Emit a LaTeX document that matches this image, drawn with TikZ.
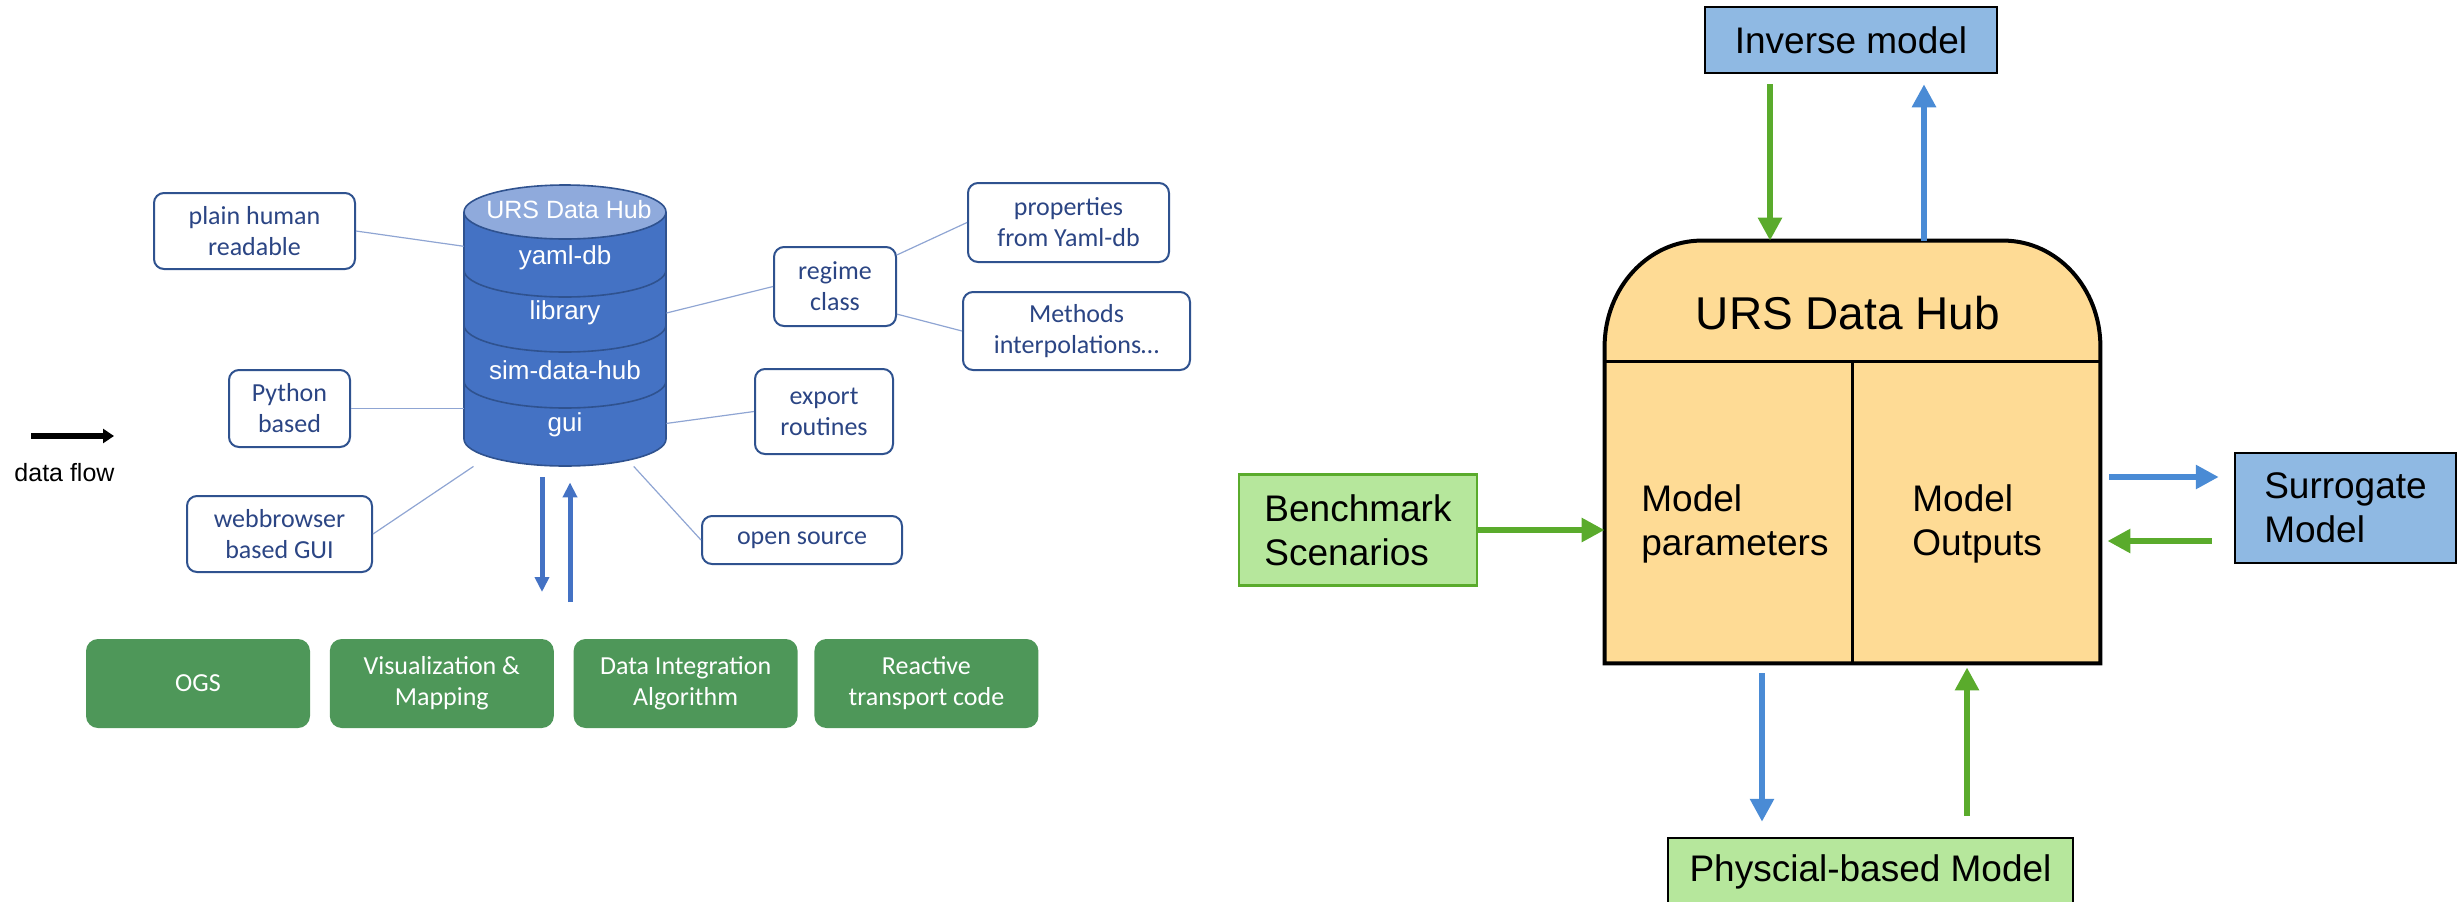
\documentclass[tikz,border=0pt]{standalone}
\usepackage{fontspec}
\setmainfont{Liberation Sans}
\newfontfamily\calibrifont{Carlito}
\usetikzlibrary{positioning,arrows.meta}

\definecolor{dbblue}{HTML}{4472C4}
\definecolor{dbtop}{HTML}{8FAADC}
\definecolor{dbedge}{HTML}{2F528F}
\definecolor{notetext}{HTML}{2B4584}
\definecolor{noteline}{HTML}{8FA5D3}
\definecolor{toolgreen}{HTML}{4E9759}
\definecolor{hubfill}{HTML}{FEDB95}
\definecolor{modelblue}{HTML}{8FB9E3}
\definecolor{modelgreen}{HTML}{B6E79C}
\definecolor{flowgreen}{HTML}{5AAB2C}
\definecolor{flowblue}{HTML}{4A8BD5}

\pgfmathsetmacro{\dbrx}{50.5}
\pgfmathsetmacro{\dbry}{13.5}

\begin{document}
\begin{tikzpicture}[
    x=0.5pt, y=-0.5pt,
    note/.style={draw=dbedge, line width=1pt, rounded corners=5pt, fill=white, text=notetext,
      font=\calibrifont\fontsize{13}{15.5}\selectfont, align=center, inner sep=0pt},
    tool/.style={fill=toolgreen, rounded corners=6pt, text=white, align=center,
      font=\calibrifont\fontsize{13}{15.5}\selectfont, minimum width=112pt, minimum height=44.5pt, inner sep=0pt},
    dblabel/.style={text=white, font=\fontsize{13}{15}\selectfont, inner sep=0pt},
    link/.style={noteline, line width=0.6pt},
    dbflow/.style={dbblue, line width=2.5pt, -{Triangle[length=7.5pt, width=7pt]}},
    legend/.style={black, line width=3pt, -{Triangle[length=5.5pt, width=7pt]}},
    model/.style={draw=black, line width=1.25pt, font=\fontsize{18.5}{22}\selectfont, inner sep=0pt},
    flow/.style={line width=3.25pt, -{Triangle[length=11.5pt, width=11.5pt]}},
    greenflow/.style={flow, flowgreen},
    blueflow/.style={flow, flowblue},
  ]
  \useasboundingbox (0,0) rectangle (2458,901);

  % legend
  \coordinate (legend tail) at (31,436);
  \coordinate (legend head) at (114,436);
  \draw[legend] (legend tail) -- (legend head);
  \node[font=\fontsize{12.5}{15}\selectfont] (legend) at (64.5,473) {data flow};

  % data hub cylinder
  \filldraw[fill=dbblue, draw=dbedge, line width=0.8pt] (464,212) -- (464,439)
    arc[start angle=180, end angle=360, x radius=\dbrx pt, y radius=\dbry pt] -- (666,212);
  \foreach \y in {270,325,381}
    \draw[dbedge, line width=0.8pt] (464,\y) arc[start angle=180, end angle=360, x radius=\dbrx pt, y radius=\dbry pt];
  \filldraw[fill=dbtop, draw=dbedge, line width=0.8pt] (565,212) ellipse[x radius=\dbrx pt, y radius=\dbry pt];
  \node[minimum width=101pt, minimum height=140.5pt, inner sep=0pt] (db) at (565,325.5) {};
  \node[dblabel, font=\fontsize{12.5}{15}\selectfont] (db title) at (569,210) {URS Data Hub};
  \node[dblabel] (yaml) at (565,258) {yaml-db};
  \node[dblabel] (library) at (565,313) {library};
  \node[dblabel] (simhub) at (565,370) {sim-data-hub};
  \node[dblabel] (gui) at (565,425) {gui};

  % notes around the cylinder
  \node[note, minimum width=100.5pt, minimum height=38pt] (plain) at (254.5,231) {plain human\\readable};
  \node[note, minimum width=60.5pt, minimum height=38.5pt] (python) at (289.5,408.5) {Python\\based};
  \node[note, minimum width=92.5pt, minimum height=38pt] (webgui) at (279.5,534) {webbrowser\\based GUI};
  \node[note, minimum width=61pt, minimum height=39.5pt] (regime) at (835,286.5) {regime\\class};
  \node[note, minimum width=100.5pt, minimum height=39.5pt] (props) at (1068.5,222.5) {properties\\from Yaml-db};
  \node[note, minimum width=113.5pt, minimum height=39pt] (methods) at (1076.5,331) {Methods\\interpolations…};
  \node[note, minimum width=69pt, minimum height=42.5pt] (export) at (824,411.5) {export\\routines};
  \node[note, minimum width=100pt, minimum height=24pt] (opensrc) at (802,540) {open source};

  % thin links
  \draw[link] (plain.east) -- (db.142);
  \draw[link] (python.east) -- (python.east -| db.west);
  \draw[link] (webgui.east) -- (db.237);
  \draw[link] (regime.west) -- (db.7);
  \draw[link] (export.west) -- (db.316);
  \draw[link] (opensrc.west) -- (db.296);
  \draw[link] (regime.27) -- (props.west);
  \draw[link] (regime.336) -- (methods.west);

  % tools row
  \node[tool] (ogs) at (198,683.5) {OGS};
  \node[tool, right=9.5pt of ogs] (vis) {Visualization \&\\Mapping};
  \node[tool, right=9.5pt of vis] (integration) {Data Integration\\Algorithm};
  \node[tool, right=8pt of integration] (reactive) {Reactive\\transport code};

  \coordinate (to tools) at (542,592);
  \coordinate (from tools) at (570,602);
  \draw[dbflow] ([yshift=-5.5pt]db.south -| to tools) -- (to tools);
  \draw[dbflow] (from tools) -- ([yshift=-8pt]db.south -| from tools);

  % hub with its models
  \node[model, fill=modelblue, minimum width=146pt, minimum height=33pt] (inverse) at (1851,40) {Inverse model};
  \node[minimum width=247.5pt, minimum height=211pt, inner sep=0pt] (hub) at (1852.5,452) {};
  \filldraw[fill=hubfill, draw=black, line width=2pt] (hub.south west)
    -- ([yshift=-53pt]hub.north west) arc[start angle=180, end angle=90, x radius=48.5pt, y radius=53pt]
    -- ([xshift=-48.5pt]hub.north east) arc[start angle=90, end angle=0, x radius=48.5pt, y radius=53pt]
    -- (hub.south east) -- cycle;
  \draw[black, line width=1.5pt] ([yshift=-60.5pt]hub.north west) -- ([yshift=-60.5pt]hub.north east);
  \draw[black, line width=1.5pt] ([yshift=-60.5pt]hub.north) -- (hub.south);
  \node[font=\fontsize{23}{27}\selectfont] (hub title) at (1848,313) {URS Data Hub};
  \node[anchor=west, align=left, font=\fontsize{18.5}{22}\selectfont, inner sep=0pt] (params) at (1641,524) {Model\\parameters};
  \node[anchor=west, align=left, font=\fontsize{18.5}{22}\selectfont, inner sep=0pt] (outputs) at (1912,524) {Model\\Outputs};

  \node[model, fill=modelgreen, draw=flowgreen, align=left, minimum width=119pt, minimum height=55.5pt] (bench) at (1358,530) {Benchmark\\Scenarios};
  \node[model, fill=modelblue, align=left, minimum width=110.5pt, minimum height=55pt] (surrogate) at (2345.5,508) {Surrogate\\Model};
  \node[model, fill=modelgreen, minimum width=202.5pt, minimum height=34pt] (physical) at (1870.5,872) {Physcial-based Model};

  % data flow arrows
  \draw[greenflow] ([xshift=-40.5pt,yshift=-5pt]inverse.south) -- ([xshift=-40.5pt]inverse.south |- hub.north);
  \draw[blueflow] ([xshift=36.5pt]inverse.south |- hub.north) -- ([xshift=36.5pt,yshift=-5pt]inverse.south);
  \draw[greenflow] (bench.east) -- (bench.east -| hub.west);
  \draw[blueflow] ([xshift=4.5pt,yshift=15.5pt]hub.east |- surrogate.west) -- ([xshift=-7.5pt,yshift=15.5pt]surrogate.west);
  \draw[greenflow] ([xshift=-11pt,yshift=-16.5pt]surrogate.west) -- ([xshift=3.5pt,yshift=-16.5pt]hub.east |- surrogate.west);
  \draw[blueflow] ([xshift=-45.25pt,yshift=-5pt]hub.south) -- ([xshift=-45.25pt,yshift=7.5pt]hub.south |- physical.north);
  \draw[greenflow] ([xshift=57.25pt,yshift=10.5pt]hub.south |- physical.north) -- ([xshift=57.25pt,yshift=-2pt]hub.south);
\end{tikzpicture}
\end{document}
